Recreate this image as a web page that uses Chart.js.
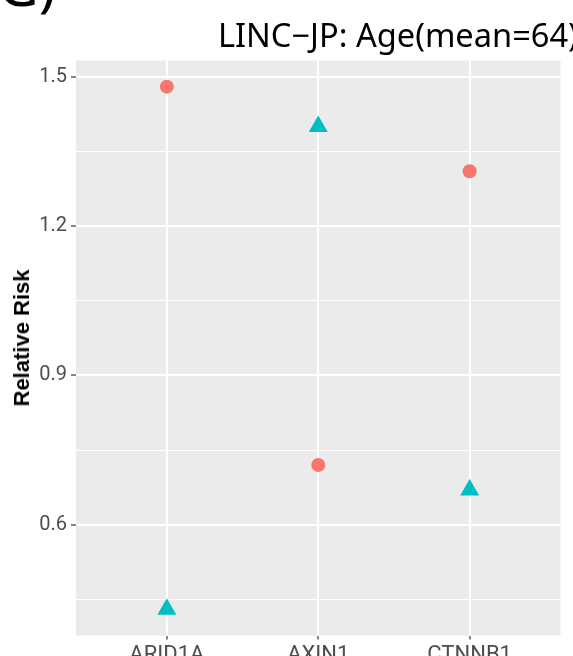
<!DOCTYPE html>
<html>
<head>
<meta charset="utf-8">
<script src="https://cdn.jsdelivr.net/npm/chart.js@4/dist/chart.umd.min.js"></script>
<style>
  html, body { margin: 0; padding: 0; background: #ffffff; overflow: hidden; }
  #wrap { position: relative; width: 573px; height: 656px; }
  #chart { position: absolute; left: 0; top: 0; }
  .lbl { position: absolute; white-space: nowrap; color: #000; line-height: 1; }
  #panel { left: -2px; top: -54px; font: 56px "Noto Sans", sans-serif; }
  #title { left: 218px; top: 11.5px; font: 32.6px "Noto Sans", sans-serif; }
  #ytitle {
    left: 22px; top: 338px;
    font: bold 22px "Liberation Sans", Arial, sans-serif;
    transform: translate(-50%, -50%) rotate(-90deg);
  }
</style>
</head>
<body>
<div id="wrap">
  <canvas id="chart" width="573" height="656"></canvas>
  <div id="panel" class="lbl">G)</div>
  <div id="title" class="lbl">LINC−JP: Age(mean=64)</div>
  <div id="ytitle" class="lbl">Relative Risk</div>
</div>
<script>
// Genes on the x axis
const genes = ["ARID1A", "AXIN1", "CTNNB1"];
// Relative risk per gene, two groups
const groupA = [1.48, 0.72, 1.31];   // circles
const groupB = [0.43, 1.40, 0.67];   // triangles
// Y axis ticks: labelled (major) and unlabelled (minor) grid lines
const majorTicks = [0.6, 0.9, 1.2, 1.5];
const minorTicks = [0.45, 0.75, 1.05, 1.35];

const isMajor = v => majorTicks.some(m => Math.abs(m - v) < 1e-6);

const panelBg = {
  id: "panelBg",
  beforeDraw(chart) {
    const { ctx, chartArea: a } = chart;
    ctx.save();
    ctx.fillStyle = "#EBEBEB";
    ctx.fillRect(a.left, a.top, a.right - a.left, a.bottom - a.top);
    ctx.restore();
  }
};

new Chart(document.getElementById("chart"), {
  type: "scatter",
  data: {
    datasets: [
      {
        label: "A",
        data: groupA.map((v, i) => ({ x: i, y: v })),
        pointStyle: "circle",
        pointRadius: 7,
        pointHoverRadius: 7,
        backgroundColor: "#F8766D",
        borderColor: "#F8766D",
        borderWidth: 0
      },
      {
        label: "B",
        data: groupB.map((v, i) => ({ x: i, y: v })),
        pointStyle: "triangle",
        pointRadius: 11,
        pointHoverRadius: 11,
        backgroundColor: "#00BFC4",
        borderColor: "#00BFC4",
        borderWidth: 0
      }
    ]
  },
  options: {
    responsive: false,
    animation: false,
    events: [],
    layout: { padding: { top: 60.5, right: 12.5, left: 0, bottom: 0 } },
    plugins: { legend: { display: false }, tooltip: { enabled: false }, title: { display: false } },
    scales: {
      x: {
        type: "linear",
        min: -0.6,
        max: genes.length - 0.4,
        afterBuildTicks(scale) {
          scale.ticks = genes.map((g, i) => ({ value: i }));
        },
        afterFit(scale) { scale.height = 20.5; },
        border: { display: false },
        grid: {
          color: "#FFFFFF",
          lineWidth: 2,
          drawTicks: true,
          tickLength: 4,
          tickColor: "#333333",
          tickWidth: 1.2
        },
        ticks: {
          autoSkip: false,
          maxRotation: 0,
          padding: 3,
          color: "#4D4D4D",
          font: { family: "Roboto", size: 22 },
          callback: v => genes[v]
        }
      },
      y: {
        min: 0.3775,
        max: 1.5325,
        afterBuildTicks(scale) {
          scale.ticks = [...minorTicks, ...majorTicks].sort((a, b) => a - b).map(v => ({ value: v }));
        },
        afterFit(scale) { scale.width = 76; },
        border: { display: false },
        grid: {
          color: "#FFFFFF",
          lineWidth: ctx => (isMajor(ctx.tick.value) ? 2 : 1),
          drawTicks: true,
          tickLength: 5,
          tickColor: ctx => (isMajor(ctx.tick.value) ? "#333333" : "rgba(0,0,0,0)"),
          tickWidth: 1.2
        },
        ticks: {
          autoSkip: false,
          padding: 4,
          color: "#4D4D4D",
          font: { family: "Roboto", size: 20 },
          callback: v => (isMajor(v) ? v.toFixed(1) : "")
        }
      }
    }
  },
  plugins: [panelBg]
});
</script>
</body>
</html>
